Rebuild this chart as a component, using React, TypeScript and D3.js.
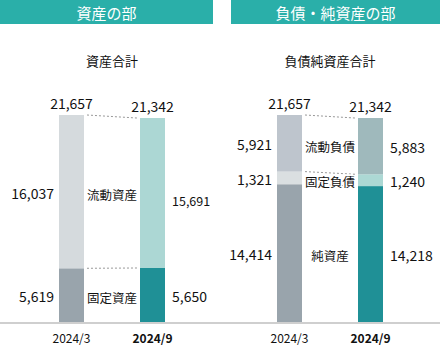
import React from 'react';
import * as d3 from 'd3';

const periods = ["2024/3", "2024/9"];
const assetKeys = ["固定資産", "流動資産"];
const fixedAssets = [5619, 5650];
const currentAssets = [16037, 15691];
const totalAssets = [21657, 21342];

const liabKeys = ["純資産", "固定負債", "流動負債"];
const netAssets = [14414, 14218];
const fixedLiabilities = [1321, 1240];
const currentLiabilities = [5921, 5883];
const totalLiabNet = [21657, 21342];

const W = 440;
const H = 352;
const baseY = 322;
const font = '"Noto Sans CJK JP", "Noto Sans", sans-serif';

// colours: [2024/3, 2024/9] per layer
const assetColors: Record<string, string[]> = {
  "固定資産": ["#99a4ac", "#1f9096"],
  "流動資産": ["#d5dadd", "#acd7d4"],
};
const liabColors: Record<string, string[]> = {
  "純資産": ["#99a4ac", "#1f9096"],
  "固定負債": ["#dadfe1", "#acd8d4"],
  "流動負債": ["#bec5cd", "#9fb9bc"],
};

const y = d3.scaleLinear().domain([0, 21657]).range([baseY, 115]);
const barW = 25;

type PanelProps = {
  x0: number;
  x1: number;
  header: string;
  hx0: number;
  hx1: number;
  title: string;
  keys: string[];
  rows: any[];
  totals: number[];
  colors: Record<string, string[]>;
  smallKey?: string;
};

const Panel = ({ x0, x1, header, hx0, hx1, title, keys, rows, totals, colors, smallKey }: PanelProps) => {
  const x = d3.scalePoint<string>().domain(periods).range([x0, x1]);
  const series = d3.stack<any>().keys(keys)(rows);
  const mid = (x0 + x1) / 2;
  return (
    <g>
      <rect x={hx0} y={0} width={hx1 - hx0} height={24} fill="#2aafa9" />
      <text x={(hx0 + hx1) / 2} y={12.5} fill="#fff" fontSize={15} textAnchor="middle" dominantBaseline="central">{header}</text>
      <text x={mid} y={60} fontSize={13} textAnchor="middle" dominantBaseline="central" fill="#111">{title}</text>

      {/* dotted connectors */}
      {series.map((s) => {
        const top0 = y(s[0][1]);
        const top1 = y(s[1][1]);
        return (
          <line key={'c' + s.key}
            x1={x(periods[0])! + barW / 2 + 3} y1={top0}
            x2={x(periods[1])! - barW / 2 - 3} y2={top1}
            stroke="#999" strokeDasharray="2,2" strokeWidth={1} />
        );
      })}

      {series.map((s) => (
        <g key={s.key}>
          {s.map((d, i) => (
            <rect key={i}
              x={x(periods[i])! - barW / 2}
              y={y(d[1])}
              width={barW}
              height={y(d[0]) - y(d[1])}
              fill={colors[s.key][i]} />
          ))}
          {s.map((d, i) => {
            const cy = (y(d[0]) + y(d[1])) / 2 + 1;
            const left = i === 0;
            const small = smallKey === s.key && i === 1;
            return (
              <text key={'v' + i}
                x={left ? x(periods[i])! - barW / 2 - 5 : x(periods[i])! + barW / 2 + 7}
                y={small ? cy + 6 : cy}
                textAnchor={left ? 'end' : 'start'}
                dominantBaseline="central"
                fontSize={small ? 12.5 : 14}
                fill="#111">
                {d3.format(",")(d[1] - d[0])}
              </text>
            );
          })}
          <text
            x={mid}
            y={(y(s[0][0]) + y(s[0][1]) + y(s[1][0]) + y(s[1][1])) / 4 + 2}
            textAnchor="middle"
            dominantBaseline="central"
            fontSize={12.5}
            fill="#111"
            stroke="#fff" strokeWidth={3} paintOrder="stroke">
            {s.key}
          </text>
        </g>
      ))}

      {totals.map((t, i) => (
        <text key={'t' + i} x={x(periods[i])} y={y(t) - 6} textAnchor="middle" fontSize={14} fill="#111">
          {d3.format(",")(t)}
        </text>
      ))}

      {periods.map((p, i) => (
        <text key={'a' + p} x={x(p)} y={337} textAnchor="middle" dominantBaseline="central"
          fontSize={12} fontWeight={i === 1 ? 'bold' : 'normal'} fill="#111">
          {p}
        </text>
      ))}
    </g>
  );
};

export default function App() {
  const assetRows = periods.map((p, i) => ({
    period: p,
    "固定資産": fixedAssets[i],
    "流動資産": currentAssets[i],
  }));
  const liabRows = periods.map((p, i) => ({
    period: p,
    "純資産": netAssets[i],
    "固定負債": fixedLiabilities[i],
    "流動負債": currentLiabilities[i],
  }));
  return (
    <svg width={W} height={H} style={{ position: 'absolute', left: 0, top: 0, fontFamily: font, background: '#fff' }}>
      <rect width={W} height={H} fill="#fff" />
      <Panel x0={71.5} x1={152.5} header="資産の部" hx0={0} hx1={213} title="資産合計"
        keys={assetKeys} rows={assetRows} totals={totalAssets} colors={assetColors} smallKey="流動資産" />
      <Panel x0={289.5} x1={370.5} header="負債・純資産の部" hx0={231} hx1={440} title="負債純資産合計"
        keys={liabKeys} rows={liabRows} totals={totalLiabNet} colors={liabColors} />
      <line x1={0} x2={W} y1={baseY + 1} y2={baseY + 1} stroke="#cfcfcf" strokeWidth={2} />
    </svg>
  );
}
